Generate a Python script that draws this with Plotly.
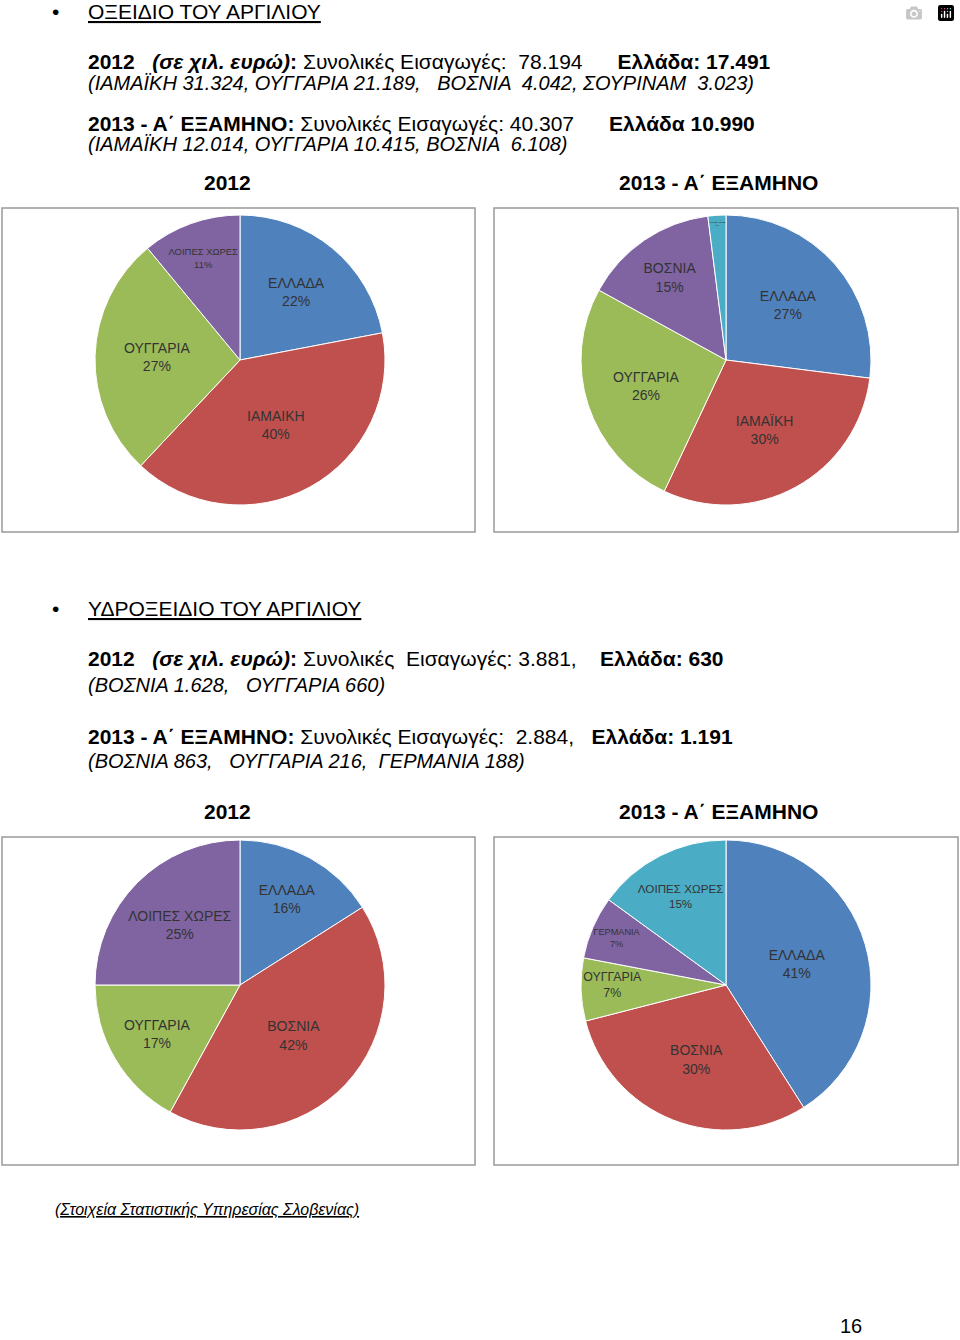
import plotly.graph_objects as go

W, H = 960, 1340

# ---- data ----
labels_a = ["ΕΛΛΑΔΑ", "ΙΑΜΑΙΚΗ", "ΟΥΓΓΑΡΙΑ", "ΛΟΙΠΕΣ ΧΩΡΕΣ"]
values_a = [22, 40, 27, 11]
labels_b = ["ΕΛΛΑΔΑ", "ΙΑΜΑΪΚΗ", "ΟΥΓΓΑΡΙΑ", "ΒΟΣΝΙΑ", "ΛΟΙΠΕΣ ΧΩΡΕΣ"]
values_b = [27, 30, 26, 15, 2]
labels_c = ["ΕΛΛΑΔΑ", "ΒΟΣΝΙΑ", "ΟΥΓΓΑΡΙΑ", "ΛΟΙΠΕΣ ΧΩΡΕΣ"]
values_c = [16, 42, 17, 25]
labels_d = ["ΕΛΛΑΔΑ", "ΒΟΣΝΙΑ", "ΟΥΓΓΑΡΙΑ", "ΓΕΡΜΑΝΙΑ", "ΛΟΙΠΕΣ ΧΩΡΕΣ"]
values_d = [41, 30, 7, 7, 15]

BLUE, RED, GREEN, PURPLE, TEAL = "#4F81BD", "#C0504D", "#9BBB59", "#8064A2", "#4BACC6"
colors_a = [BLUE, RED, GREEN, PURPLE]
colors_b = [BLUE, RED, GREEN, PURPLE, TEAL]
colors_c = [BLUE, RED, GREEN, PURPLE]
colors_d = [BLUE, RED, GREEN, PURPLE, TEAL]


def px(x, y):
    return x / W, 1 - y / H


fig = go.Figure()


def add_pie(labels, values, colors, cx, cy, r):
    x0, y1 = px(cx - r, cy - r)
    x1, y0 = px(cx + r, cy + r)
    fig.add_trace(go.Pie(
        labels=labels, values=values, sort=False, direction="clockwise", rotation=0,
        marker=dict(colors=colors, line=dict(color="white", width=1)),
        texttemplate="%{label}<br>%{value}%", textposition="inside",
        insidetextorientation="horizontal",
        textfont=dict(family="Liberation Sans Narrow, Liberation Sans", size=14, color="#333"),
        domain=dict(x=[x0, x1], y=[y0, y1]), showlegend=False, hoverinfo="label+value",
    ))


add_pie(labels_a, values_a, colors_a, 240, 360, 145)
add_pie(labels_b, values_b, colors_b, 726, 360, 145)
add_pie(labels_c, values_c, colors_c, 240, 985, 145)
add_pie(labels_d, values_d, colors_d, 726, 985, 145)

shapes = []
for (bx0, by0, bx1, by1) in [(2, 208, 475, 532), (494, 208, 958, 532),
                             (2, 837, 475, 1165), (494, 837, 958, 1165)]:
    x0, y1 = px(bx0, by0)
    x1, y0 = px(bx1, by1)
    shapes.append(dict(type="rect", xref="paper", yref="paper", x0=x0, x1=x1, y0=y0, y1=y1,
                       line=dict(color="#999", width=1.5)))

F = "Liberation Sans"
texts = [
    (50, 12, "•", 21),
    (86, 12, "<u>ΟΞΕΙΔΙΟ ΤΟΥ ΑΡΓΙΛΙΟΥ</u>", 21),
    (86, 62, "<b>2012   <i>(σε χιλ. ευρώ)</i>:</b> Συνολικές Εισαγωγές:  78.194      <b>Ελλάδα: 17.491</b>", 21),
    (86, 83, "<i>(ΙΑΜΑΪΚΗ 31.324, ΟΥΓΓΑΡΙΑ 21.189,   ΒΟΣΝΙΑ  4.042, ΣΟΥΡΙΝΑΜ  3.023)</i>", 20),
    (86, 123, "<b>2013 - Α΄ ΕΞΑΜΗΝΟ:</b> Συνολικές Εισαγωγές: 40.307      <b>Ελλάδα 10.990</b>", 21),
    (86, 144, "<i>(ΙΑΜΑΪΚΗ 12.014, ΟΥΓΓΑΡΙΑ 10.415, ΒΟΣΝΙΑ  6.108)</i>", 20),
    (202, 183, "<b>2012</b>", 21),
    (617, 183, "<b>2013 - Α΄ ΕΞΑΜΗΝΟ</b>", 21),
    (50, 609, "•", 21),
    (86, 609, "<u>ΥΔΡΟΞΕΙΔΙΟ ΤΟΥ ΑΡΓΙΛΙΟΥ</u>", 21),
    (86, 659, "<b>2012   <i>(σε χιλ. ευρώ)</i>:</b> Συνολικές  Εισαγωγές: 3.881,    <b>Ελλάδα: 630</b>", 21),
    (86, 685, "<i>(ΒΟΣΝΙΑ 1.628,   ΟΥΓΓΑΡΙΑ 660)</i>", 20),
    (86, 736, "<b>2013 - Α΄ ΕΞΑΜΗΝΟ:</b> Συνολικές Εισαγωγές:  2.884,   <b>Ελλάδα: 1.191</b>", 21),
    (86, 761, "<i>(ΒΟΣΝΙΑ 863,   ΟΥΓΓΑΡΙΑ 216,  ΓΕΡΜΑΝΙΑ 188)</i>", 20),
    (202, 811, "<b>2012</b>", 21),
    (617, 811, "<b>2013 - Α΄ ΕΞΑΜΗΝΟ</b>", 21),
    (53, 1209, "<i><u>(Στοιχεία Στατιστικής Υπηρεσίας Σλοβενίας)</u></i>", 16),
    (838, 1326, "16", 20),
]
annotations = []
for x, y, t, s in texts:
    ax, ay = px(x, y)
    annotations.append(dict(x=ax, y=ay, xref="paper", yref="paper", text=t, showarrow=False,
                            xanchor="left", yanchor="middle", font=dict(family=F, size=s, color="black")))

fig.update_layout(width=W, height=H, margin=dict(l=0, r=0, t=0, b=0),
                  paper_bgcolor="white", plot_bgcolor="white",
                  shapes=shapes, annotations=annotations)
fig.write_html("out.html", post_script="document.body.style.margin='0';")
